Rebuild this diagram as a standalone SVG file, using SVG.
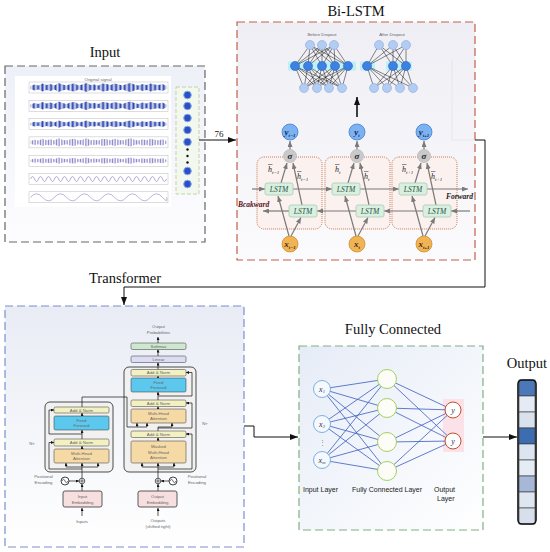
<svg xmlns="http://www.w3.org/2000/svg" width="550" height="552" viewBox="0 0 550 552">
<style>
.title{font-family:"Liberation Serif",serif;font-size:14.5px;fill:#111;text-anchor:middle}
.tiny{font-family:"Liberation Sans",Arial,sans-serif;font-size:4.3px;fill:#666;text-anchor:middle}
.sm{font-family:"Liberation Sans",Arial,sans-serif;font-size:7px;fill:#222}
.lstm{font-family:"Liberation Serif",serif;font-style:italic;font-size:7.5px;fill:#2a5040;text-anchor:middle}
.var{font-family:"Liberation Serif",serif;font-style:italic;font-weight:bold;font-size:9px;fill:#1a2a50;text-anchor:middle}
.h{font-family:"Liberation Serif",serif;font-style:italic;font-size:8px;fill:#222}
.cell{fill:#fbf1ef;stroke:#c87a55;stroke-width:1;stroke-dasharray:1 1}
.lbox{fill:#d9f0e1;stroke:#a8cdb2;stroke-width:0.8}
.ga{stroke:#7a7a7a;stroke-width:1.2;fill:none;marker-end:url(#ag)}
.ta{stroke:#111;stroke-width:0.7;fill:none;marker-end:url(#at)}
.tl{stroke:#111;stroke-width:0.7;fill:none}
.an{fill:#f3f1c2;stroke:#333;stroke-width:0.5}
.ff{fill:#5cc8ee;stroke:#333;stroke-width:0.5}
.mha{fill:#f6daa6;stroke:#333;stroke-width:0.5}
.emb{fill:#f7dfdf;stroke:#333;stroke-width:0.8}
.plot{fill:#fff;stroke:#aaa;stroke-width:0.4}
.conn{stroke:#111;stroke-width:1;fill:none}
.fc{stroke:#3a5cc0;stroke-width:0.8;fill:none}
</style>
<defs>
<marker id="ah" markerUnits="userSpaceOnUse" markerWidth="8" markerHeight="6" refX="8" refY="3" orient="auto"><path d="M0,0L8,3L0,6z" fill="#111"/></marker>
<marker id="ag" markerUnits="userSpaceOnUse" markerWidth="6" markerHeight="5" refX="6" refY="2.5" orient="auto"><path d="M0,0L6,2.5L0,5z" fill="#7a7a7a"/></marker>
<marker id="at" markerUnits="userSpaceOnUse" markerWidth="3" markerHeight="3" refX="3" refY="1.5" orient="auto"><path d="M0,0L3,1.5L0,3z" fill="#111"/></marker>
<linearGradient id="gIn" x1="0" y1="0" x2="0" y2="1"><stop offset="0" stop-color="#eef0f8"/><stop offset="1" stop-color="#fdfdff"/></linearGradient>
<linearGradient id="gBi" x1="0" y1="0" x2="0" y2="1"><stop offset="0" stop-color="#eeeef4"/><stop offset="1" stop-color="#fbfbfd"/></linearGradient>
<linearGradient id="gTr" x1="0" y1="0" x2="0" y2="1"><stop offset="0" stop-color="#e9ecf5"/><stop offset="1" stop-color="#ffffff"/></linearGradient>
<linearGradient id="gFc" x1="0" y1="0" x2="1" y2="1"><stop offset="0" stop-color="#e6ecf7"/><stop offset="1" stop-color="#ffffff"/></linearGradient>
<pattern id="stB" width="1.3" height="20" patternUnits="userSpaceOnUse"><rect width="0.75" height="20" fill="#2a44b0"/></pattern>
<pattern id="stP" width="1.6" height="20" patternUnits="userSpaceOnUse"><rect width="0.6" height="20" fill="#6a62b8"/></pattern>
<path id="env" d="M0,-1.5L4,-3 8,-2 12,-4 16,-2.5 20,-3.5 24,-2 28,-4.5 32,-3 36,-2 40,-3.5 44,-4 48,-2 52,-3 56,-4.5 60,-2.5 64,-3 68,-2 72,-4 76,-3.5 80,-2.5 84,-4 88,-3 92,-2 96,-3.5 100,-4.5 104,-3 108,-2 112,-3.5 116,-2.5 120,-4 124,-3 128,-2.5 132,-3.5 136,-1.5L136,1.5 132,3.5 128,2.5 124,3 120,4 116,2.5 112,3.5 108,2 104,3 100,4.5 96,3.5 92,2 88,3 84,4 80,2.5 76,3.5 72,4 68,2 64,3 60,2.5 56,4.5 52,3 48,2 44,4 40,3.5 36,2 32,3 28,4.5 24,2 20,3.5 16,2.5 12,4 8,2 4,3 0,1.5Z"/>
</defs>
<rect width="550" height="552" fill="#fff"/>

<!-- INPUT -->
<g id="input">
<text class="title" x="105" y="57">Input</text>
<rect x="5" y="66" width="200" height="176" fill="url(#gIn)" stroke="#666" stroke-width="1.2" stroke-dasharray="8 4"/>
<rect x="15" y="76" width="156" height="131" fill="#fff"/>
<g>
<rect class="plot" x="29" y="82" width="139" height="11"/>
<rect class="plot" x="29" y="100.3" width="139" height="11"/>
<rect class="plot" x="29" y="118.6" width="139" height="11"/>
<rect class="plot" x="29" y="136.9" width="139" height="11"/>
<rect class="plot" x="29" y="155.2" width="139" height="11"/>
<rect class="plot" x="29" y="173.5" width="139" height="11"/>
<rect class="plot" x="29" y="191.8" width="139" height="11"/>
<use href="#env" fill="url(#stB)" transform="translate(30.5,87.5)"/>
<use href="#env" fill="url(#stB)" transform="translate(30.5,105.8) scale(1,0.95)"/>
<use href="#env" fill="url(#stB)" transform="translate(30.5,124.1) scale(1,0.8)"/>
<use href="#env" fill="url(#stP)" transform="translate(30.5,142.4) scale(1,0.9)"/>
<use href="#env" fill="url(#stP)" transform="translate(30.5,160.7) scale(1,0.7)"/>
<path d="M30.5,179q2,-5 4,0t4,0t4,0t4,0t4,0t4,0t4,0t4,0t4,0t4,0t4,0t4,0t4,0t4,0t4,0t4,0t4,0t4,0t4,0t4,0t4,0t4,0t4,0t4,0t4,0t4,0t4,0t4,0t4,0t4,0t4,0t4,0t4,0t4,0" fill="none" stroke="#7c78b8" stroke-width="0.6"/>
<path d="M30.5,197.3q6,-7 12,0t12,0t12,0t12,0t12,0t12,0t12,0t12,0t12,0t12,0t12,0t4,0" fill="none" stroke="#9a9ac6" stroke-width="0.7"/>
<text class="tiny" x="98" y="80.5" font-size="3">Original signal</text>
</g>
<rect x="176" y="87" width="23" height="107" fill="#f2f8ee" stroke="#b8c898" stroke-width="0.8" stroke-dasharray="4 2"/>
<g fill="#2a50c8" stroke="#8aa8e8" stroke-width="1">
<circle cx="187.5" cy="95" r="3.8"/><circle cx="187.5" cy="106" r="3.8"/><circle cx="187.5" cy="118" r="3.8"/><circle cx="187.5" cy="130" r="3.8"/><circle cx="187.5" cy="142" r="3.8"/><circle cx="187.5" cy="171" r="3.8"/><circle cx="187.5" cy="184" r="3.8"/>
</g>
<g fill="#111"><circle cx="187.5" cy="149.5" r="1.2"/><circle cx="187.5" cy="156" r="1.2"/><circle cx="187.5" cy="162.5" r="1.2"/></g>
</g>

<!-- BI-LSTM -->
<g id="bilstm">
<text class="title" x="356" y="16">Bi-LSTM</text>
<rect x="237" y="22" width="238" height="238" fill="url(#gBi)" stroke="#c0604a" stroke-width="1.2" stroke-dasharray="8 4"/>
<path d="M452,60V140H475" fill="none" stroke="#e0e0e0" stroke-width="0.6"/>
<text class="tiny" x="322" y="36">Before Dropout</text>
<text class="tiny" x="392" y="36">After Dropout</text>
<rect x="288" y="61.5" width="68" height="9" fill="#bdf0f7"/>
<rect x="360" y="61.5" width="15" height="9" fill="#bdf0f7"/>
<rect x="386" y="61.5" width="26" height="9" fill="#bdf0f7"/>
<path fill="none" stroke="#111" stroke-width="0.5" d="M304,88L295,66M304,88L308,66M304,88L322,66M304,88L335,66M304,88L348,66M317,88L295,66M317,88L308,66M317,88L322,66M317,88L335,66M317,88L348,66M329,88L295,66M329,88L308,66M329,88L322,66M329,88L335,66M329,88L348,66M342,88L295,66M342,88L308,66M342,88L322,66M342,88L335,66M342,88L348,66M295,66L310,45M295,66L322,45M295,66L334,45M308,66L310,45M308,66L322,45M308,66L334,45M322,66L310,45M322,66L322,45M322,66L334,45M335,66L310,45M335,66L322,45M335,66L334,45M348,66L310,45M348,66L322,45M348,66L334,45"/>
<path fill="none" stroke="#111" stroke-width="0.5" d="M374,88L367,66M374,88L393,66M374,88L406,66M387,88L367,66M387,88L393,66M387,88L406,66M400,88L367,66M400,88L393,66M400,88L406,66M413,88L367,66M413,88L393,66M413,88L406,66M367,66L379,45M367,66L393,45M367,66L406,45M393,66L379,45M393,66L393,45M393,66L406,45M406,66L379,45M406,66L393,45M406,66L406,45"/>
<g fill="#b3cdf2" stroke="#86a8e2" stroke-width="0.6">
<circle cx="310" cy="45" r="4.5"/><circle cx="322" cy="45" r="4.5"/><circle cx="334" cy="45" r="4.5"/>
<circle cx="379" cy="45" r="4.5"/><circle cx="393" cy="45" r="4.5"/><circle cx="406" cy="45" r="4.5"/>
<circle cx="304" cy="88" r="4.5"/><circle cx="317" cy="88" r="4.5"/><circle cx="329" cy="88" r="4.5"/><circle cx="342" cy="88" r="4.5"/>
<circle cx="374" cy="88" r="4.5"/><circle cx="387" cy="88" r="4.5"/><circle cx="400" cy="88" r="4.5"/><circle cx="413" cy="88" r="4.5"/>
</g>
<g fill="#3d82e2" stroke="#2a60c0" stroke-width="0.6">
<circle cx="295" cy="66" r="4.5"/><circle cx="308" cy="66" r="4.5"/><circle cx="322" cy="66" r="4.5"/><circle cx="335" cy="66" r="4.5"/><circle cx="348" cy="66" r="4.5"/>
<circle cx="367" cy="66" r="4.5"/><circle cx="393" cy="66" r="4.5"/><circle cx="406" cy="66" r="4.5"/>
</g>
<path d="M357,117V97" stroke="#111" stroke-width="1.6" fill="none" marker-end="url(#ah)"/>

<rect class="cell" x="257" y="157" width="65" height="72" rx="7"/>
<rect class="cell" x="325" y="157" width="65" height="72" rx="7"/>
<rect class="cell" x="392" y="157" width="65" height="72" rx="7"/>

<g class="ga">
<path d="M252,189H265"/><path d="M293,189H332"/><path d="M360,189H399"/><path d="M427,189H468"/>
<path d="M470,211H451"/><path d="M423,211H384"/><path d="M356,211H317"/><path d="M289,211H263"/>
<path d="M289,236L278,196"/><path d="M291,236L301,217.5"/><path d="M281,183L287,163"/><path d="M302,205L293,163"/><path d="M290,149.5V141"/>
<path d="M356,236L345,196"/><path d="M358,236L368,217.5"/><path d="M348,183L354,163"/><path d="M369,205L360,163"/><path d="M357,149.5V141"/>
<path d="M423,236L412,196"/><path d="M425,236L435,217.5"/><path d="M415,183L421,163"/><path d="M436,205L427,163"/><path d="M424,149.5V141"/>
</g>
<g>
<rect class="lbox" x="265" y="183" width="28" height="12" rx="2"/><text class="lstm" x="279" y="191.7">LSTM</text>
<rect class="lbox" x="332" y="183" width="28" height="12" rx="2"/><text class="lstm" x="346" y="191.7">LSTM</text>
<rect class="lbox" x="399" y="183" width="28" height="12" rx="2"/><text class="lstm" x="413" y="191.7">LSTM</text>
<rect class="lbox" x="289" y="205" width="28" height="12" rx="2"/><text class="lstm" x="303" y="213.7">LSTM</text>
<rect class="lbox" x="356" y="205" width="28" height="12" rx="2"/><text class="lstm" x="370" y="213.7">LSTM</text>
<rect class="lbox" x="423" y="205" width="28" height="12" rx="2"/><text class="lstm" x="437" y="213.7">LSTM</text>
</g>
<g fill="#c9c9c9" stroke="#b0b0b0" stroke-width="0.6">
<circle cx="290" cy="156" r="6.5"/><circle cx="357" cy="156" r="6.5"/><circle cx="424" cy="156" r="6.5"/>
</g>
<g class="var"><text x="290" y="159.3" style="fill:#222">σ</text><text x="357" y="159.3" style="fill:#222">σ</text><text x="424" y="159.3" style="fill:#222">σ</text></g>
<g fill="#7db2f2" stroke="#3f7fd4" stroke-width="0.8">
<circle cx="290" cy="132" r="8"/><circle cx="357" cy="132" r="8"/><circle cx="424" cy="132" r="8"/>
</g>
<text class="var" x="290" y="135">y<tspan font-size="5" dy="2">t−1</tspan></text>
<text class="var" x="357" y="135">y<tspan font-size="5" dy="2">t</tspan></text>
<text class="var" x="424" y="135">y<tspan font-size="5" dy="2">t+1</tspan></text>
<g fill="#f0b455" stroke="#d08c2c" stroke-width="0.8">
<circle cx="290" cy="244" r="8"/><circle cx="357" cy="244" r="8"/><circle cx="424" cy="244" r="8"/>
</g>
<text class="var" x="290" y="247" style="fill:#4a2a10">x<tspan font-size="5" dy="2">t−1</tspan></text>
<text class="var" x="357" y="247" style="fill:#4a2a10">x<tspan font-size="5" dy="2">t</tspan></text>
<text class="var" x="424" y="247" style="fill:#4a2a10">x<tspan font-size="5" dy="2">t+1</tspan></text>
<g>
<text class="h" x="268" y="172">h<tspan font-size="5" dy="1.5">t−1</tspan></text>
<text class="h" x="297" y="179">h<tspan font-size="5" dy="1.5">t−1</tspan></text>
<text class="h" x="335" y="172">h<tspan font-size="5" dy="1.5">t</tspan></text>
<text class="h" x="364" y="179">h<tspan font-size="5" dy="1.5">t</tspan></text>
<text class="h" x="402" y="172">h<tspan font-size="5" dy="1.5">t+1</tspan></text>
<text class="h" x="431" y="179">h<tspan font-size="5" dy="1.5">t+1</tspan></text>
<path d="M268,164.5h4.5M297,171.5h4.5M335,164.5h4.5M364,171.5h4.5M402,164.5h4.5M431,171.5h4.5" stroke="#222" stroke-width="0.5"/>
</g>
<text x="473" y="199" text-anchor="end" style="font-family:'Liberation Serif',serif;font-style:italic;font-weight:bold;font-size:7.5px;fill:#222">Forward</text>
<text x="238" y="207" style="font-family:'Liberation Serif',serif;font-style:italic;font-weight:bold;font-size:7.5px;fill:#5a1020">Bcakward</text>
</g>

<!-- TRANSFORMER -->
<g id="transformer">
<text class="title" x="125" y="283">Transformer</text>
<rect x="5" y="306" width="239" height="241" fill="url(#gTr)" stroke="#7a90d0" stroke-width="1.2" stroke-dasharray="8 4"/>
<rect x="45" y="402" width="68" height="70" rx="5" fill="#f1f1f1" stroke="#222" stroke-width="0.8"/>
<rect x="124" y="367" width="72" height="105" rx="5" fill="#f1f1f1" stroke="#222" stroke-width="0.8"/>
<g class="tl">
<path d="M82,478V467M66,467H98M82,469H49V442.5M82,434H49V410M82,407V397H127V427H147M158,469H192V434M158,428H192V403M158,396H192V372.5M158,478V467M142,467H174M158,431V427H172"/>
</g>
<g class="ta">
<path d="M82,516V508"/><path d="M82,491V484"/><path d="M69,481H79"/>
<path d="M66,467V463"/><path d="M82,467V463"/><path d="M98,467V463"/>
<path d="M49,442.5H54"/><path d="M82,449V446"/><path d="M82,439V430"/><path d="M49,410H54"/><path d="M82,416V413"/>
<path d="M158,516V508"/><path d="M158,491V484"/><path d="M169,481H161"/>
<path d="M142,467V463"/><path d="M158,467V463"/><path d="M174,467V463"/>
<path d="M192,434H186"/><path d="M158,441V437.5"/>
<path d="M137,427V423"/><path d="M147,427V423"/><path d="M172,427V423"/>
<path d="M192,403H186"/><path d="M158,409V406.5"/><path d="M158,400V392"/><path d="M192,372.5H186"/><path d="M158,378V376"/>
<path d="M158,369.5V362.5"/><path d="M158,356V349.5"/><path d="M158,343V337"/>
</g>
<rect class="an" x="54" y="407" width="55" height="6" rx="1.5"/><text class="tiny" x="81.5" y="411.6">Add &amp; Norm</text>
<rect class="ff" x="54" y="416" width="55" height="14" rx="1.5"/><text class="tiny" x="81.5" y="422">Feed</text><text class="tiny" x="81.5" y="427">Forward</text>
<rect class="an" x="54" y="439" width="55" height="7" rx="1.5"/><text class="tiny" x="81.5" y="444">Add &amp; Norm</text>
<rect class="mha" x="54" y="449" width="55" height="14" rx="1.5"/><text class="tiny" x="81.5" y="455">Multi-Head</text><text class="tiny" x="81.5" y="460">Attention</text>
<text class="tiny" x="32" y="444.5">N×</text>
<text class="tiny" x="43.5" y="478">Positional</text><text class="tiny" x="43.5" y="484">Encoding</text>
<circle cx="65" cy="481" r="4" fill="#fff" stroke="#111" stroke-width="0.8"/><path d="M62,481q1.5,-3.5 3,0t3,0" fill="none" stroke="#111" stroke-width="0.6"/>
<circle cx="82" cy="481" r="2.8" fill="#fff" stroke="#111" stroke-width="0.7"/><path d="M80,481h4M82,479v4" stroke="#111" stroke-width="0.6"/>
<rect class="emb" x="63" y="491" width="39" height="16" rx="2"/><text class="tiny" x="82.5" y="498">Input</text><text class="tiny" x="82.5" y="503.5">Embedding</text>
<text class="tiny" x="82" y="523">Inputs</text>

<text class="tiny" x="158.5" y="328">Output</text><text class="tiny" x="158.5" y="333.5">Probabilities</text>
<rect x="131" y="343" width="55" height="6.5" rx="1.5" fill="#cde8cf" stroke="#333" stroke-width="0.5"/><text class="tiny" x="158.5" y="347.8">Softmax</text>
<rect x="131" y="356" width="55" height="6.5" rx="1.5" fill="#dcdcf2" stroke="#333" stroke-width="0.5"/><text class="tiny" x="158.5" y="360.8">Linear</text>
<rect class="an" x="131" y="369.5" width="55" height="6.5" rx="1.5"/><text class="tiny" x="158.5" y="374.2">Add &amp; Norm</text>
<rect class="ff" x="131" y="378" width="55" height="14" rx="1.5"/><text class="tiny" x="158.5" y="384">Feed</text><text class="tiny" x="158.5" y="389">Forward</text>
<rect class="an" x="131" y="400" width="55" height="6.5" rx="1.5"/><text class="tiny" x="158.5" y="404.7">Add &amp; Norm</text>
<rect class="mha" x="131" y="409" width="55" height="14" rx="1.5"/><text class="tiny" x="158.5" y="415">Multi-Head</text><text class="tiny" x="158.5" y="420">Attention</text>
<rect class="an" x="131" y="431" width="55" height="6.5" rx="1.5"/><text class="tiny" x="158.5" y="435.7">Add &amp; Norm</text>
<rect class="mha" x="131" y="441" width="55" height="22" rx="1.5"/><text class="tiny" x="158.5" y="448">Masked</text><text class="tiny" x="158.5" y="453.5">Multi-Head</text><text class="tiny" x="158.5" y="459">Attention</text>
<text class="tiny" x="205" y="425">N×</text>
<circle cx="158" cy="481" r="2.8" fill="#fff" stroke="#111" stroke-width="0.7"/><path d="M156,481h4M158,479v4" stroke="#111" stroke-width="0.6"/>
<circle cx="173" cy="481" r="4" fill="#fff" stroke="#111" stroke-width="0.8"/><path d="M170,481q1.5,-3.5 3,0t3,0" fill="none" stroke="#111" stroke-width="0.6"/>
<text class="tiny" x="197" y="478">Positional</text><text class="tiny" x="197" y="484">Encoding</text>
<rect class="emb" x="138" y="491" width="39" height="16" rx="2"/><text class="tiny" x="157.5" y="498">Output</text><text class="tiny" x="157.5" y="503.5">Embedding</text>
<text class="tiny" x="158" y="522">Outputs</text><text class="tiny" x="158" y="528">(shifted right)</text>
</g>

<!-- FULLY CONNECTED -->
<g id="fully-connected">
<text class="title" x="393" y="334">Fully Connected</text>
<rect x="299" y="346" width="184" height="184" fill="url(#gFc)" stroke="#80b080" stroke-width="1.2" stroke-dasharray="8 4"/>
<rect x="443" y="399" width="21" height="53" fill="#fbe1e8"/>
<path class="fc" d="M322,389L387,379M322,389L387,408M322,389L387,442M322,389L387,471M322,424L387,379M322,424L387,408M322,424L387,442M322,424L387,471M322,460L387,379M322,460L387,408M322,460L387,442M322,460L387,471M387,379L453,410M387,379L453,441M387,408L453,410M387,408L453,441M387,442L453,410M387,442L453,441M387,471L453,410M387,471L453,441"/>
<g fill="#f4f9ff" stroke="#7eb0de" stroke-width="1">
<circle cx="322" cy="389" r="8.5"/><circle cx="322" cy="424" r="8.5"/><circle cx="322" cy="460" r="8.5"/>
</g>
<g fill="#fbfdf6" stroke="#a6d05e" stroke-width="1">
<circle cx="387" cy="379" r="9.5"/><circle cx="387" cy="408" r="9.5"/><circle cx="387" cy="442" r="9.5"/><circle cx="387" cy="471" r="9.5"/>
</g>
<g fill="#fff" stroke="#c0502a" stroke-width="1">
<circle cx="453" cy="410" r="8"/><circle cx="453" cy="441" r="8"/>
</g>
<g style="font-family:'Liberation Serif',serif;font-style:italic;font-size:8px;fill:#333" text-anchor="middle">
<text x="322" y="391.5">x<tspan font-size="4.5" dy="1.5">1</tspan></text>
<text x="322" y="426.5">x<tspan font-size="4.5" dy="1.5">2</tspan></text>
<text x="322" y="462.5">x<tspan font-size="4.5" dy="1.5">m</tspan></text>
<text x="453" y="413">y</text>
<text x="453" y="444">y</text>
</g>
<text x="322" y="445" text-anchor="middle" style="font-family:'Liberation Sans',sans-serif;font-size:7px;fill:#888">⋮</text>
<text class="sm" x="303" y="492">Input Layer</text>
<text class="sm" x="352" y="492">Fully Connected Layer</text>
<text class="sm" x="434" y="492">Output</text>
<text class="sm" x="437" y="500.5">Layer</text>
</g>

<!-- OUTPUT -->
<g id="output">
<text class="title" x="527" y="368">Output</text>
<g stroke="#333" stroke-width="0.6">
<rect x="519" y="380" width="16" height="16" fill="#4a78b8"/>
<rect x="519" y="396" width="16" height="16" fill="#e4ebf4"/>
<rect x="519" y="412" width="16" height="16" fill="#d9e1ec"/>
<rect x="519" y="428" width="16" height="16" fill="#3b6db0"/>
<rect x="519" y="444" width="16" height="16" fill="#dce5f0"/>
<rect x="519" y="460" width="16" height="16" fill="#e6ecf4"/>
<rect x="519" y="476" width="16" height="16" fill="#a6b7d8"/>
<rect x="519" y="492" width="16" height="16" fill="#dee6f0"/>
<rect x="519" y="508" width="16" height="16" fill="#d6dfeb"/>
</g>
<rect x="518" y="380" width="18" height="144" rx="4" fill="none" stroke="#111" stroke-width="1.6"/>
</g>

<!-- CONNECTORS -->
<g id="connectors">
<path class="conn" d="M199,140H236" marker-end="url(#ah)"/>
<text x="219" y="137" text-anchor="middle" style="font-family:'Liberation Serif',serif;font-size:9px;fill:#111">76</text>
<path class="conn" d="M475,140H485V287H124V305" marker-end="url(#ah)"/>
<path class="conn" d="M244,426H254V437H298" marker-end="url(#ah)"/>
<path class="conn" d="M483,437H517" marker-end="url(#ah)"/>
</g>
</svg>
